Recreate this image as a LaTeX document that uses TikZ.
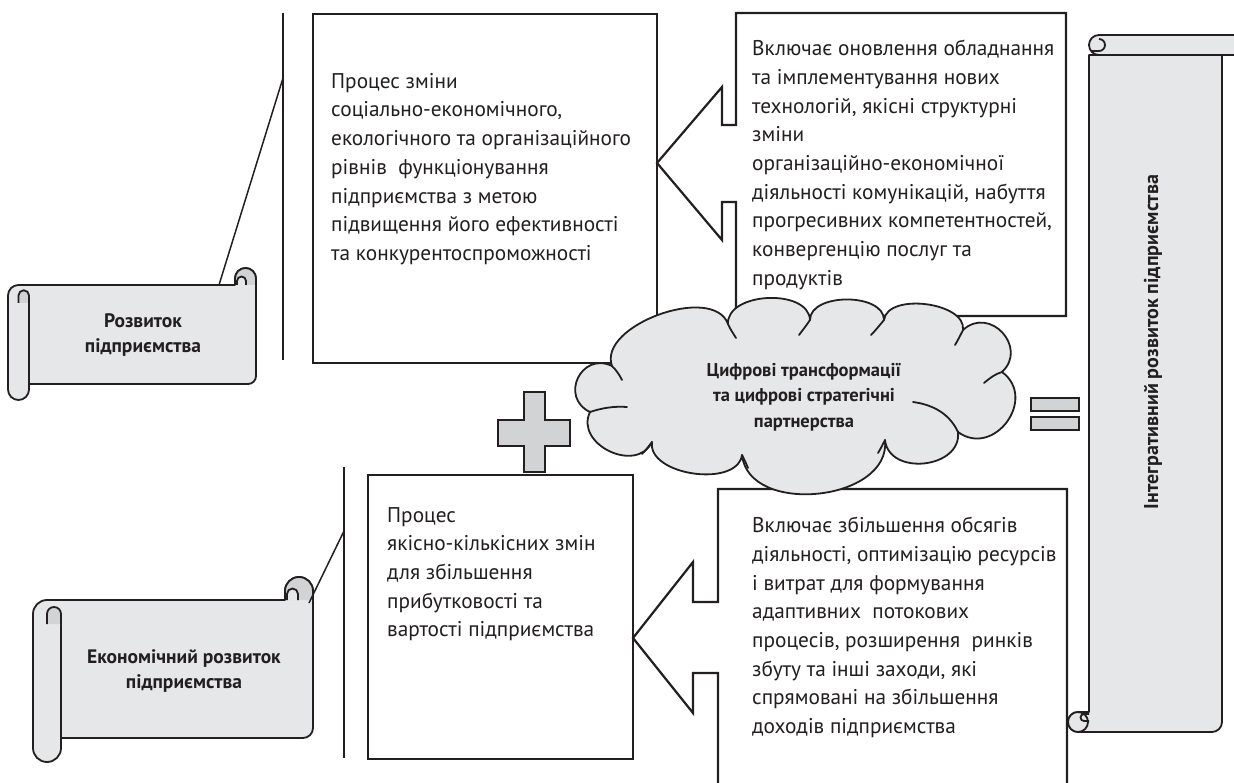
\documentclass[tikz,border=0pt]{standalone}
\usepackage{fontspec}
\setmainfont{PT Sans}
\definecolor{lt}{HTML}{E6E7E8}
\definecolor{dk}{HTML}{D1D3D4}
\definecolor{ink}{HTML}{231F20}
\begin{document}
\begin{tikzpicture}[x=1pt,y=-1pt,
  box/.style={draw=ink, line width=2.2pt, fill=white, line join=miter},
  body/.style={font=\fontsize{21.3}{28.7}\selectfont, align=left, anchor=north west, inner sep=0pt, text=ink},
  lbl/.style={font=\bfseries\fontsize{19.5}{25}\selectfont, align=center, text=ink, inner sep=0pt},
  scr/.style={draw=ink, line width=1.8pt, fill=lt, line join=round},
  scrl/.style={draw=ink, line width=1.8pt, line join=round},
  ln/.style={draw=ink, line width=1.5pt},
  sym/.style={draw=ink, line width=2.2pt, fill=dk},
  cin/.style={draw=ink, line width=1.8pt, line cap=round},
]
\useasboundingbox (0,0) rectangle (1234,783);
\clip (0,0) rectangle (1234,783);

% ---------- upper block ----------
\coordinate (l1t) at (283,13);
\coordinate (l1b) at (283,360);
\coordinate (l1m) at (283,78);
\draw[ln] (l1t) -- (l1b);

\node[box, anchor=north west, minimum width=344pt, minimum height=349pt, inner sep=0pt] (b1) at (312,13) {};
\node[body] (t1) at (331,73) {Процес зміни\\соціально-економічного,\\екологічного та організаційного\\рівнів\ \ функціонування\\підприємства з метою\\підвищення його ефективності\\та конкурентоспроможності};

\coordinate (b2a) at (736,13);
\coordinate (b2b) at (1066,13);
\coordinate (b2c) at (1066,316);
\coordinate (b2d) at (736,316);
\coordinate (b2tip) at (657,163);
\draw[box] (b2a) -- (b2b) -- (b2c) -- (b2d) -- (736,202) -- (722,202) -- (722,240) -- (b2tip) -- (722,87) -- (722,125) -- (736,125) -- cycle;
\node[body] (t2) at (752,40) {Включає оновлення обладнання\\та імплементування нових\\технологій, якісні структурні\\зміни\\організаційно-економічної\\діяльності комунікацій, набуття\\прогресивних компетентностей,\\конвергенцію послуг та\\продуктів};

% ---------- lower block ----------
\coordinate (l2t) at (344,467);
\coordinate (l2b) at (344,758);
\coordinate (l2m) at (344,531);
\draw[ln] (l2t) -- (l2b);

\node[box, anchor=north west, minimum width=265pt, minimum height=284pt, inner sep=0pt] (b3) at (367,474) {};
\node[body] (t3) at (387,507) {Процес\\якісно-кількісних змін\\для збільшення\\прибутковості та\\вартості підприємства};

\coordinate (b4a) at (718,489);
\coordinate (b4b) at (1067,489);
\coordinate (b4tip) at (633,638);
\draw[box] (718,795) -- (718,673) -- (693,673) -- (693,713) -- (b4tip) -- (693,562) -- (693,602) -- (718,602) -- (b4a) -- (b4b) -- (1067,795);
\node[body] (t4) at (752,517) {Включає збільшення обсягів\\діяльності, оптимізацію ресурсів\\і витрат для формування\\адаптивних\ \ потокових\\процесів, розширення\ \ ринків\\збуту та інші заходи, які\\спрямовані на збільшення\\доходів підприємства};

% ---------- cloud ----------
\coordinate (cb) at (590,412);
\coordinate (ca) at (612,366);
\coordinate (ck) at (728,324);
\coordinate (cj) at (810,320);
\coordinate (ci) at (884,320);
\coordinate (ch) at (963,330);
\coordinate (cg) at (1002,372);
\coordinate (cf) at (958,432);
\coordinate (ce) at (885,440);
\coordinate (cd) at (742,455);
\coordinate (cc) at (652,442);
\path[draw=ink, fill=lt, line width=1.8pt, line join=round]
  (cb) .. controls (559.2,397.3) and (581.2,351.3) .. (ca)
       .. controls (597.3,325.4) and (713.3,283.4) .. (ck)
       .. controls (726.4,292) and (808.4,288) .. (cj)
       .. controls (810,292.6) and (884,292.6) .. (ci)
       .. controls (887.5,292.3) and (966.5,302.3) .. (ch)
       .. controls (989.5,305.4) and (1028.5,347.4) .. (cg)
       .. controls (1038,398.4) and (994,458.4) .. (cf)
       .. controls (962,468.5) and (889,476.5) .. (ce)
       .. controls (891.5,501.5) and (748.5,516.5) .. (cd)
       .. controls (737.2,488.3) and (647.2,475.3) .. (cc)
       .. controls (636.4,474.2) and (574.4,444.2) .. (cb) -- cycle;
\draw[cin] (ck) .. controls (730,329) and (733,333) .. (736,338);
\draw[cin] (cj) .. controls (806,326) and (802,331) .. (799,335);
\draw[cin] (ci) .. controls (879,326) and (875,331) .. (871,335);
\draw[cin] (ch) .. controls (960,336) and (958,340) .. (955,345);
\draw[cin] (cg) .. controls (995,374) and (990,378) .. (984,383);
\draw[cin] (cf) .. controls (950,415) and (935,405) .. (913,402);
\draw[cin] (ca) .. controls (616,370) and (619,374) .. (622,380);
\draw[cin] (cb) .. controls (602,408) and (614,406) .. (627,407);
\draw[cin] (cc) .. controls (649,446) and (646,450) .. (642,454);
\draw[cin] (cd) .. controls (744,459) and (746,463) .. (748,468);
\draw[cin] (ce) .. controls (883,444) and (881,448) .. (878,453);
\node[lbl, font=\bfseries\fontsize{18.5}{25.5}\selectfont] (clt) at (804,397) {Цифрові трансформації\\та цифрові стратегічні\\партнерства};

% ---------- plus and equals ----------
\draw[sym] (524,392) -- (545,392) -- (545,420) -- (570,420) -- (570,446) -- (545,446) -- (545,472) -- (524,472) -- (524,446) -- (498,446) -- (498,420) -- (524,420) -- cycle;
\node[sym, anchor=north west, minimum width=48pt, minimum height=13pt, inner sep=0pt] (eq1) at (1030,397) {};
\node[sym, anchor=north west, minimum width=48pt, minimum height=13pt, inner sep=0pt] (eq2) at (1030,416) {};

% ---------- scroll 1 ----------
\path[scr] (8,295.5) arc (180:270:10.5) -- (235,285) -- (235,278.5) arc (180:360:10.5) -- (256,376) arc (0:90:8) -- (29,384) -- (29,389.5) arc (0:180:10.5) -- cycle;
\path[fill=dk] (235,285) -- (235,278.5) arc (180:360:10.5) -- (256,285) -- cycle;
\draw[scrl] (235,285) -- (235,278.5) arc (180:360:10.5) -- (256,285);
\filldraw[scr] (237,285) -- (237,281) arc (180:360:4.5) -- (246,285);
\draw[scrl] (29,295.5) -- (29,384);
\filldraw[scr, fill=dk] (18.5,303) -- (18.5,295.5) arc (180:360:5.25) -- (29,303);
\node[lbl] (s1) at (143,335) {Розвиток\\підприємства};
\coordinate (s1c) at (219,285);
\draw[ln] (s1c) -- (l1m);

% ---------- scroll 2 ----------
\path[scr] (33,614) arc (180:270:14) -- (285,600) -- (285,591) arc (180:360:14) -- (313,728) arc (0:90:10) -- (61,738) -- (61,748) arc (0:180:14) -- cycle;
\path[fill=dk] (285,600) -- (285,591) arc (180:360:14) -- (313,600) -- cycle;
\draw[scrl] (285,600) -- (285,591) arc (180:360:14) -- (313,600);
\filldraw[scr] (287,600) -- (287,594) arc (180:360:5.5) -- (298,600);
\draw[scrl] (61,614) -- (61,738);
\filldraw[scr, fill=dk] (47,624) -- (47,614) arc (180:360:7) -- (61,624);
\node[lbl] (s2) at (184,671) {Економічний розвиток\\підприємства};
\coordinate (s2c) at (309,603);
\draw[ln] (s2c) -- (l2m);

% ---------- scroll 3 (vertical) ----------
\path[scr] (1089,55) -- (1222,55) -- (1222,722) arc (0:90:10) -- (1078,732) arc (90:270:10) -- (1089,712) -- cycle;
\filldraw[scr] (1078,722) circle (10);
\draw[scrl] (1089,714) -- (1084,714) arc (270:90:3.5) -- (1089,721);
\path[scr] (1245,35) -- (1099,35) arc (270:90:10) -- (1245,55);
\draw[scrl] (1099,39) arc (270:450:6) -- (1091,51);
\node[lbl, font=\bfseries\fontsize{20}{25}\selectfont, rotate=90] (s3) at (1153,342) {Інтегративний розвиток підприємства};

\end{tikzpicture}
\end{document}
